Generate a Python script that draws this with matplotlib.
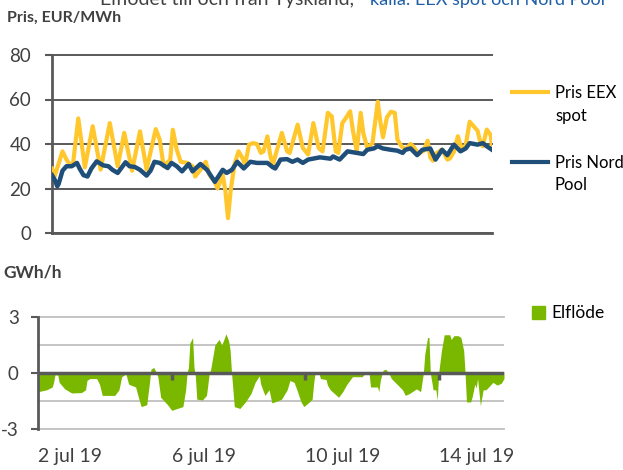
import matplotlib.pyplot as plt
from matplotlib.lines import Line2D
from matplotlib.patches import Rectangle

plt.rcParams['font.family'] = ['Lato', 'DejaVu Sans']

# timmar räknat från 2 jul 00:00
eex_h = [0, 2, 8, 11, 14, 16, 20, 25, 31, 37, 44, 50, 55, 61, 67, 72, 79, 82, 85, 90,
         92, 95, 98, 103, 107, 109, 113, 117, 120, 124, 126, 130, 132, 134, 136, 139, 142, 145, 147, 150,
         153, 156, 159, 161, 164, 166, 168, 175, 179, 181, 187, 191, 195, 199, 203, 206, 210, 213, 216, 218,
         221, 223, 227, 229, 232, 235, 237, 240, 244, 248, 250, 252, 255, 258, 261, 263, 266, 269, 273, 275,
         279, 283, 286, 288, 290, 293, 297, 301, 303, 306, 309, 312, 315, 318, 321, 324, 326, 328, 331, 334,
         335]
eex_pris = [29, 25.5, 36.7, 33, 30.5, 31, 51.5, 29.5, 48, 28.5, 49.4, 30, 45, 28, 45.7, 28.5, 46.7, 42, 30, 33,
            46.4, 37.4, 32, 31.5, 30, 25.4, 28.4, 32, 26, 23, 20, 26, 19, 6.7, 19, 31, 36.7, 33.7, 30.7, 39.7,
            40.4, 40, 36, 36.7, 43.4, 35.5, 30.5, 45, 36.7, 36, 48.7, 38.2, 35.3, 49.4, 38.2, 36.7, 54, 52.4, 36.7, 36,
            49.4, 51, 54.7, 46.4, 36.7, 54, 45, 38.2, 40.4, 59, 50, 43, 52, 54.5, 54, 42, 39, 37.5, 40, 39,
            35.5, 37, 41.5, 34, 32.5, 36, 37.5, 33, 33.5, 36.5, 43.5, 37.5, 39.5, 50, 48, 46, 41, 39, 46.5, 44,
            39]

nordpool_h = [0, 2, 4, 5, 8, 11, 15, 19, 21, 24, 27, 30, 34, 39, 43, 46, 50, 56, 59, 63,
              67, 72, 75, 78, 82, 88, 91, 95, 99, 104, 107, 113, 118, 124, 130, 133, 137, 141, 146, 151,
              156, 164, 168, 170, 174, 179, 183, 187, 191, 195, 204, 212, 214, 219, 225, 232, 237, 240, 245, 248,
              252, 258, 263, 267, 269, 273, 278, 282, 288, 292, 297, 301, 306, 311, 315, 318, 324, 328, 331, 335]
nordpool_pris = [26, 24, 21, 22, 28, 30, 30, 31.5, 29, 26, 25.4, 29, 32.2, 30.4, 30, 28.4, 27, 31.8, 30, 29.7,
                 28.4, 25.8, 28, 32, 31.5, 29.2, 31.5, 30, 27.7, 31, 27.7, 31, 28.4, 23, 28.4, 27, 28.4, 32, 29, 32,
                 31.5, 31.5, 29.6, 29, 33, 33.2, 32, 33, 31.5, 33, 34, 33.4, 34.4, 33, 36.7, 36, 35.5, 37.4, 38, 39,
                 38, 37.4, 37, 36, 37.4, 38, 35, 37.4, 38, 33, 37.4, 35, 39.7, 36.7, 38, 40.4, 39.7, 40.4, 39, 37.4]

flode_h = [0, 6, 10, 11, 12, 14, 15, 19, 24, 31, 34, 35, 37, 42, 44, 46, 55, 58, 60, 63,
           65, 70, 72, 74, 78, 80, 81, 83, 85, 86, 88, 93, 96, 100, 104, 106, 107, 108, 109, 111,
           112, 113, 114, 118, 121, 123, 124, 127, 130, 132, 135, 137, 138, 139, 141, 145, 149, 153, 156, 159,
           160, 163, 166, 168, 172, 175, 179, 181, 184, 186, 189, 191, 195, 197, 198, 199, 202, 203, 207, 208,
           210, 213, 216, 219, 222, 226, 233, 235, 238, 239, 244, 245, 246, 248, 250, 252, 254, 258, 262, 264,
           267, 272, 275, 276, 277, 278, 280, 281, 282, 284, 286, 287, 288, 290, 292, 296, 297, 299, 302, 304,
           306, 307, 308, 311, 312, 314, 315, 316, 318, 320, 322, 324, 327, 330, 333, 335]
flode = [-1.0, -0.9, -0.75, -0.5, -0.1, -0.1, -0.5, -0.85, -1.07, -1.05, -0.9, -0.4, -0.3, -0.3, -0.6, -1.2, -1.2, -0.9, -0.2, -0.05,
         -0.6, -0.75, -1.3, -1.8, -1.7, -0.5, 0.2, 0.3, 0.0, -0.2, -1.3, -1.7, -2.0, -1.9, -1.8, -0.9, 0.0, 0.3, 1.6, 1.9,
         0.3, -0.2, -1.4, -1.45, -1.2, 0.0, 0.2, 1.5, 1.8, 1.5, 2.1, 1.7, 1.2, 0.0, -1.8, -1.9, -1.55, -1.1, -0.5, -0.15,
         -0.6, -1.2, -0.9, -1.6, -1.5, -1.4, -0.9, -0.4, -0.5, -0.9, -1.55, -1.8, -1.55, -1.4, -0.6, -0.05, -0.05, -0.3, -0.35, -0.65,
         -0.9, -1.1, -1.3, -1.0, -0.6, -0.2, -0.2, -0.02, -0.05, -0.75, -0.75, -1.0, -0.4, 0.15, 0.2, 0.0, -0.3, -0.6, -0.9, -1.2,
         -1.1, -0.85, -1.0, -0.5, 0.0, 1.0, 1.9, 1.9, 0.0, -0.9, -0.9, -1.45, 0.0, 1.2, 2.05, 2.05, 1.8, 2.0, 2.0, 1.9,
         1.2, 0.0, -1.55, -1.55, -1.3, -0.6, -0.8, -0.3, -1.75, -0.9, -0.9, -0.75, -0.5, -0.65, -0.55, -0.3]

dag_ticks = [0, 96, 192, 288]
dag_labels = ['2 jul 19', '6 jul 19', '10 jul 19', '14 jul 19']

gul = '#FFC72C'
bla = '#1F4E79'
gron = '#7AB800'
mork = '#595959'
text_farg = '#404040'

W, H = 623, 470
fig = plt.figure(figsize=(W / 100, H / 100), dpi=100)


def fx(px):
    return px / W


def fy(py):
    return 1 - py / H


# rubrik (beskuren i överkant)
fig.text(fx(100), fy(5), 'Elflödet till och från Tyskland,', fontsize=14, color=text_farg, va='baseline')
fig.text(fx(370), fy(5), 'källa: EEX spot och Nord Pool', fontsize=13, color='#1F5FA8', va='baseline')

# --- priser ---
ax1 = fig.add_axes([fx(52), fy(233), fx(492) - fx(52), fy(55) - fy(233)])
ax1.plot(eex_h, eex_pris, color=gul, lw=3.0, solid_joinstyle='round', zorder=3)
ax1.plot(nordpool_h, nordpool_pris, color=bla, lw=3.2, solid_joinstyle='round', zorder=4)
ax1.set_xlim(0, 335)
ax1.set_ylim(0, 80)
ax1.set_yticks([0, 20, 40, 60, 80])
ax1.set_xticks([])
ax1.grid(axis='y', color=mork, lw=1.4)
for gl in ax1.get_ygridlines():
    gl.set_clip_on(False)
for s in ['top', 'right']:
    ax1.spines[s].set_visible(False)
for s in ['left', 'bottom']:
    ax1.spines[s].set_color(mork)
    ax1.spines[s].set_linewidth(2)
ax1.tick_params(axis='y', length=5, width=1.5, color=mork, labelsize=13.5, labelcolor=text_farg, pad=10)

fig.text(fx(7), fy(18), 'Pris, EUR/MWh', fontsize=11.5, fontweight='bold', color=text_farg, va='center')

# förklaring priser
fig.add_artist(Line2D([fx(512), fx(548)], [fy(92), fy(92)], color=gul, lw=3))
fig.add_artist(Line2D([fx(512), fx(548)], [fy(162), fy(162)], color=bla, lw=3))
fig.text(fx(555), fy(104.5), 'Pris EEX\nspot', fontsize=12, color='black', va='center', linespacing=1.5)
fig.text(fx(555), fy(174), 'Pris Nord\nPool', fontsize=12, color='black', va='center', linespacing=1.5)

# --- elflöde ---
ax2 = fig.add_axes([fx(38.3), fy(429), fx(504) - fx(38.3), fy(317) - fy(429)])
ax2.fill_between(flode_h, flode, 0, color=gron, lw=0, zorder=2)
ax2.set_xlim(0, 335)
ax2.set_ylim(-3, 3)
ax2.set_yticks([-3, 0, 3])
ax2.set_yticklabels(['-3', '0', '3'])
ax2.set_yticks([-1.5, 1.5], minor=True)
ax2.grid(axis='y', which='both', color='#BFBFBF', lw=1.3, zorder=1)
for gl in ax2.get_ygridlines():
    gl.set_clip_on(False)
ax2.axhline(0, color=mork, lw=2.5, zorder=4)
ax2.vlines(dag_ticks[1:], -0.38, 0, color=mork, lw=2.5, zorder=4)
for s in ['top', 'right', 'bottom']:
    ax2.spines[s].set_visible(False)
ax2.spines['left'].set_color(mork)
ax2.spines['left'].set_linewidth(2)
ax2.tick_params(axis='y', which='major', length=5, width=1.5, color=mork, labelsize=13.5, labelcolor=text_farg, pad=9)
ax2.tick_params(axis='y', which='minor', length=0)
ax2.set_xticks(dag_ticks)
ax2.set_xticklabels(dag_labels, ha='left')
ax2.tick_params(axis='x', length=0, labelsize=14, labelcolor=text_farg, pad=14)

fig.text(fx(3), fy(272), 'GWh/h', fontsize=12.5, fontweight='bold', color=text_farg, va='center')

fig.add_artist(Rectangle((fx(532), fy(319)), fx(13), 13 / H, color=gron, transform=fig.transFigure))
fig.text(fx(551), fy(313), 'Elflöde', fontsize=12.5, color='black', va='center')

fig.savefig('out.png', dpi=100)
